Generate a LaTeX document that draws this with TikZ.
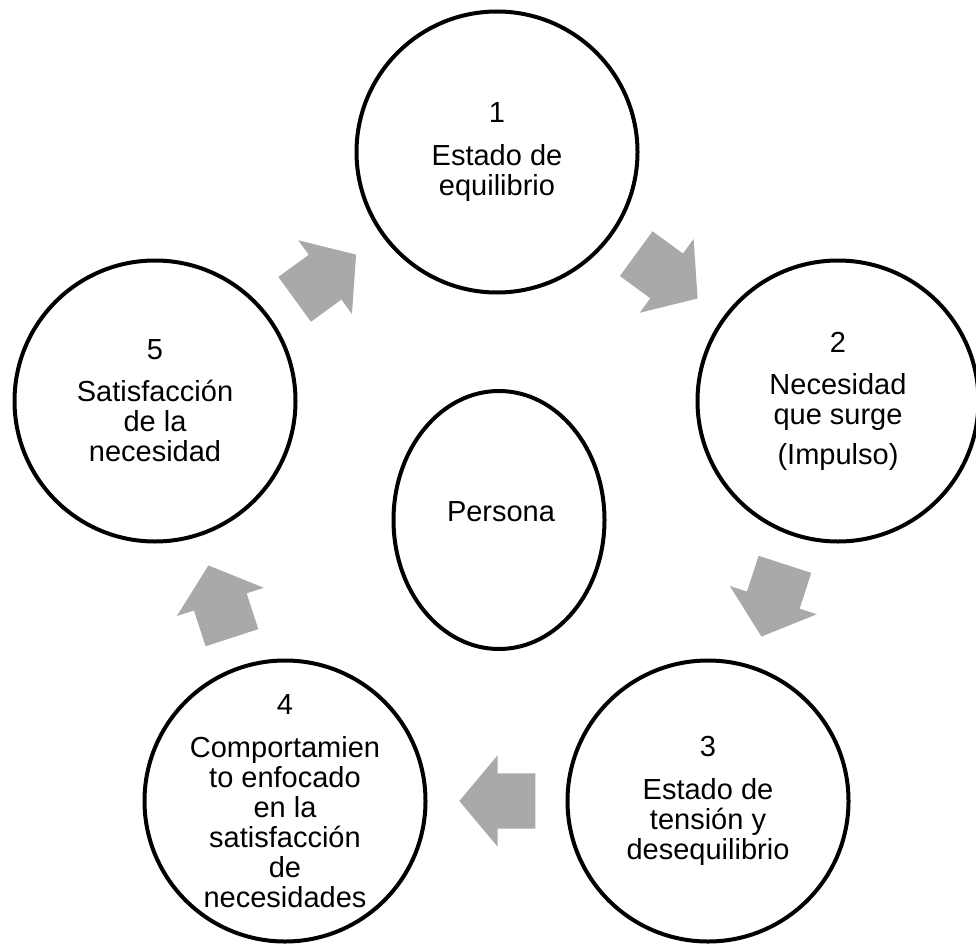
\documentclass[tikz,border=0pt]{standalone}
\usepackage{fontspec}
\setmainfont{Liberation Sans}
\usetikzlibrary{shapes.geometric,shapes.arrows}
\definecolor{flechagris}{RGB}{169,169,169}

\begin{document}
\begin{tikzpicture}[x=1pt,y=-1pt,
  etapa/.style={draw,line width=4pt,circle,minimum size=281pt,inner sep=0pt},
  texto/.style={align=center,font=\fontsize{29}{30}\selectfont},
  flecha/.style={single arrow,fill=flechagris,inner xsep=0pt,inner ysep=27.5pt,minimum height=76pt,
    single arrow head extend=18pt,single arrow tip angle=100,pos=0.41,sloped,allow upside down}]
\useasboundingbox (0,0) rectangle (976,944);
\node[etapa] (e1) at (497,152) {};
\node[etapa] (e2) at (838,401) {};
\node[etapa] (e3) at (708,801) {};
\node[etapa] (e4) at (285,801) {};
\node[etapa] (e5) at (155,401) {};
\node[draw,line width=4pt,ellipse,minimum width=211pt,minimum height=258pt,inner sep=0pt] (p) at (499,520) {};
\node[texto] (t1) at (e1) {1\\[13pt]Estado de\\equilibrio};
\node[texto] (t2) at (e2) {2\\[12pt]Necesidad\\que surge\\[10pt](Impulso)};
\node[texto] (t3) at (e3) {3\\[13pt]Estado de\\tensión y\\desequilibrio};
\node[texto] (t4) at (e4) {4\\[13pt]Comportamien\\to enfocado\\en la\\satisfacción\\de\\necesidades};
\node[texto] (t5) at (e5) {5\\[12pt]Satisfacción\\de la\\necesidad};
\node[texto] (tp) at (501,512) {Persona};
\path (e1) -- node[flecha] (f12) {} (e2);
\path (e2) -- node[flecha] (f23) {} (e3);
\path (e3) -- node[flecha] (f34) {} (e4);
\path (e4) -- node[flecha] (f45) {} (e5);
\path (e5) -- node[flecha] (f51) {} (e1);
\end{tikzpicture}
\end{document}
